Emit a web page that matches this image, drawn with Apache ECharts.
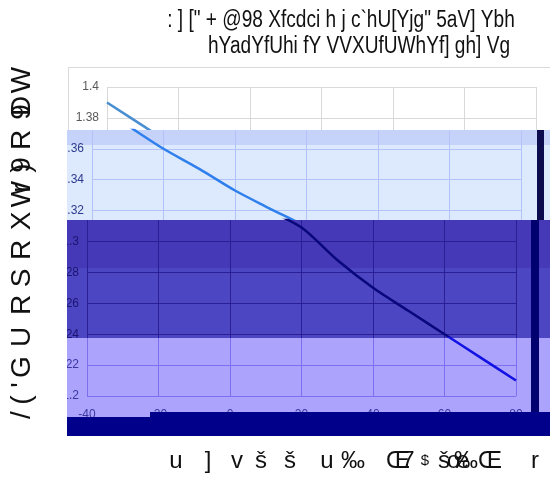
<!DOCTYPE html>
<html><head><meta charset="utf-8">
<script src="https://cdn.jsdelivr.net/npm/echarts@6/dist/echarts.min.js"></script>
<style>html,body{margin:0;padding:0;background:#fff}#c{width:550px;height:480px}</style>
</head><body><div id="c"></div>
<script>
// ---- data ----
const temps = [-40, -30, -20, -10, 0, 10, 20, 30, 40, 50, 60, 70, 80];
const vf = [1.39, 1.375, 1.36, 1.347, 1.333, 1.321, 1.309, 1.288, 1.27, 1.255, 1.24, 1.225, 1.21];
const xMin = -40, xMax = 80, xStep = 20;
const yTicks = [1.2, 1.22, 1.24, 1.26, 1.28, 1.3, 1.32, 1.34, 1.36, 1.38, 1.4];
const titleLine1 = ': ] [" + @98 Xfcdci h j c`hU[Yjg" 5aV] Ybh';
const titleLine2 = 'hYadYfUhi fY VVXUfUWhYf] gh] Vg';
const yTitleGlyphs = ['/', '(', "'", 'G', 'U', 'R', 'S', 'R', 'X', 'W', 'r', '9', ')', 'R', '9', 'D', 'W'];
const xTitleGlyphs = ['u', ']', 'v', 'š', 'š', 'u', '‰', 'Œ', '7', '$', 'š', 'œ', '‰', 'Œ', 'r'];

// ---- layout (bands of the picture) ----
const bands = [
  {top: 87, bottom: 130, left: 107, right: 14, yMax: 1.4, grid: '#d9d9d9', label: '#595959', line: '#4a8fd2', z: 2, xLabels: false},
  {top: 130, bottom: 220, left: 92, right: 29, yMax: 1.37217, grid: '#b3c2f8', label: '#2c3a8e', line: '#2f80ec', z: 11, xLabels: false},
  {top: 220, bottom: 338, left: 87, right: 34, yMax: 1.31392, grid: '#2b1f98', label: '#1b1470', line: '#08087c', z: 21, xLabels: false},
  {top: 338, bottom: 420, left: 87, right: 34, yMax: 1.23754, grid: '#7c70f0', label: '#3a36a0', line: '#1212e4', z: 31, xLabels: true}
];
const plotBottom = 396;
const font = '"Liberation Sans Narrow", "Liberation Sans", sans-serif';

const grids = [], xAxes = [], yAxes = [], series = [];
bands.forEach((b, i) => {
  grids.push({left: b.left, right: b.right, top: b.top, bottom: 480 - plotBottom, containLabel: false});
  const yBandLow = 1.2 + (plotBottom - b.bottom) / (plotBottom - b.top) * (b.yMax - 1.2);
  const yv = yTicks.filter(v => v <= b.yMax + 1e-9);
  const yl = yv.filter(v => v >= yBandLow - 0.004);
  xAxes.push({
    type: 'value', gridIndex: i, min: xMin, max: xMax, interval: xStep, z: b.z,
    axisLine: {show: false}, axisTick: {show: false},
    axisLabel: {show: b.xLabels, color: b.label, fontSize: 12, fontFamily: font, margin: 13},
    splitLine: {show: true, lineStyle: {color: b.grid, width: 1}}
  });
  yAxes.push({
    type: 'value', gridIndex: i, min: 1.2, max: b.yMax, z: b.z,
    axisLine: {show: false},
    axisTick: {show: false, customValues: yv},
    axisLabel: {color: b.label, fontSize: 12, fontFamily: font, margin: 8, customValues: yl,
      formatter: v => String(+v.toFixed(2))},
    splitLine: {show: true, lineStyle: {color: b.grid, width: 1}}
  });
  series.push({
    type: 'line', xAxisIndex: i, yAxisIndex: i, z: b.z + 1,
    data: temps.map((t, k) => [t, vf[k]]),
    smooth: 0.3, showSymbol: false, clip: true,
    lineStyle: {color: b.line, width: 2.5}
  });
});

const rect = (x, y, w, h, fill, z, stroke) => ({
  type: 'rect', z, shape: {x, y, width: w, height: h},
  style: stroke ? {fill, stroke, lineWidth: 1} : {fill}, silent: true
});

const graphics = [
  rect(68.5, 67.5, 490, 100, '#ffffff', 1, '#d9d9d9'),
  rect(67, 130, 483, 90, '#dde9fd', 10),
  rect(67, 130, 483, 15, '#c5d3fb', 10.5),
  rect(537, 130, 7, 90, '#0b0b4d', 13),
  rect(67, 220, 483, 48, '#4639b7', 20),
  rect(67, 268, 483, 70, '#4d46c3', 20),
  rect(67, 338, 483, 82, '#aca4fc', 30),
  rect(531, 220, 8, 195, '#00006e', 33),
  rect(150, 412, 400, 24, '#00008b', 40),
  rect(67, 417, 90, 19, '#00008b', 40),
  rect(0, 130, 67, 320, '#ffffff', 45),
  {type: 'text', z: 50, x: 341, y: 21, scaleX: 0.83, style: {text: titleLine1, font: '23px ' + font, fill: '#111', textAlign: 'center', textVerticalAlign: 'middle'}},
  {type: 'text', z: 50, x: 359, y: 47, scaleX: 0.83, style: {text: titleLine2, font: '23px ' + font, fill: '#111', textAlign: 'center', textVerticalAlign: 'middle'}}
];
const glyphY = [415, 400, 385, 367, 337, 305, 278, 250, 221, 194, 188, 165, 168, 140, 112, 106, 80];
yTitleGlyphs.forEach((g, i) => {
  graphics.push({type: 'text', z: 50, x: 22, y: glyphY[i], rotation: Math.PI / 2,
    style: {text: g, font: '28px "Liberation Sans", sans-serif', fill: '#111', textAlign: 'center', textVerticalAlign: 'middle'}});
});
const glyphX = [176, 208, 237, 261, 290, 327, 353, 398, 408, 425, 444, 458, 466, 490, 535];
xTitleGlyphs.forEach((g, i) => {
  graphics.push({type: 'text', z: 50, x: glyphX[i], y: 461,
    style: {text: g, font: (g === '$' ? '15px ' : '24px ') + '"Liberation Sans", sans-serif', fill: '#111', textAlign: 'center', textVerticalAlign: 'middle'}});
});

const chart = echarts.init(document.getElementById('c'), null, {renderer: 'canvas'});
chart.setOption({
  backgroundColor: '#ffffff',
  animation: false,
  grid: grids, xAxis: xAxes, yAxis: yAxes, series: series,
  graphic: {elements: graphics}
});
</script>
</body></html>
